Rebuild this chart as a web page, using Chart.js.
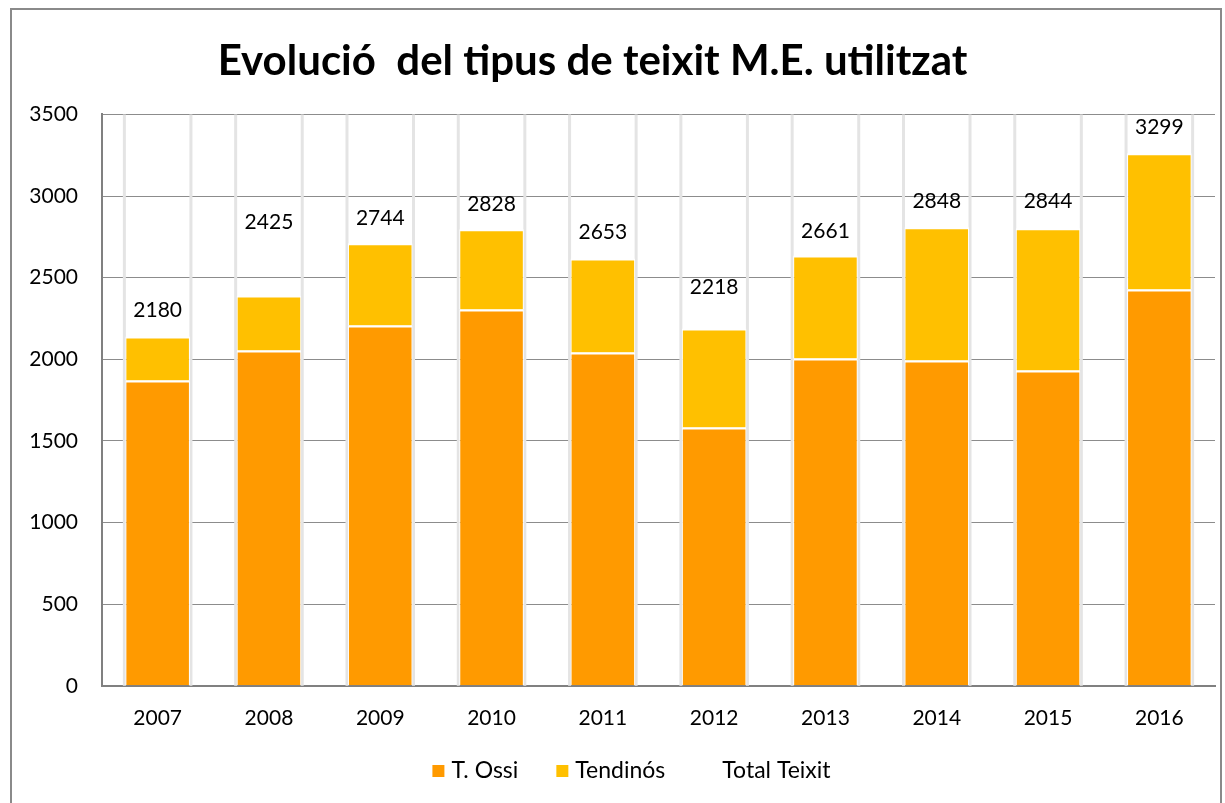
<!DOCTYPE html>
<html>
<head>
<meta charset="utf-8">
<title>Evolució del tipus de teixit M.E. utilitzat</title>
<script src="https://cdn.jsdelivr.net/npm/chart.js@4/dist/chart.umd.min.js"></script>
<style>
  html, body { margin: 0; padding: 0; background: #fff; }
  #wrap { position: relative; width: 1225px; height: 803px; }
  #frame { position: absolute; left: 10px; top: 8px; width: 1212px; height: 800px;
           border: 2px solid #8a8a8a; box-sizing: border-box; pointer-events: none; }
</style>
</head>
<body>
<div id="wrap">
  <canvas id="chart" width="1225" height="803"></canvas>
  <div id="frame"></div>
</div>
<script>
// data
var years = ['2007', '2008', '2009', '2010', '2011', '2012', '2013', '2014', '2015', '2016'];
var ossi = [1870, 2054, 2207, 2305, 2042, 1582, 2005, 1993, 1931, 2428];
var tendinos = [270, 337, 503, 491, 576, 607, 631, 815, 871, 834];
var totalTeixit = [2180, 2425, 2744, 2828, 2653, 2218, 2661, 2848, 2844, 3299];
var yTicks = [0, 500, 1000, 1500, 2000, 2500, 3000, 3500];

var FONT = 'Lato, "Open Sans", sans-serif';
var TITLE = 'Evolució  del tipus de teixit M.E. utilitzat';

// soft grey lines along the bar edges, like the original's shadow
var barEdges = {
  id: 'barEdges',
  beforeDatasetsDraw: function (chart) {
    var ctx = chart.ctx, area = chart.chartArea;
    var meta = chart.getDatasetMeta(0);
    ctx.save();
    ctx.strokeStyle = '#e4e4e4';
    ctx.lineWidth = 3;
    meta.data.forEach(function (bar) {
      var half = bar.width / 2 + 1;
      [bar.x - half, bar.x + half].forEach(function (x) {
        ctx.beginPath();
        ctx.moveTo(x, area.top);
        ctx.lineTo(x, area.bottom);
        ctx.stroke();
      });
    });
    ctx.restore();
  }
};

// total labels above the stacks
var totalLabels = {
  id: 'totalLabels',
  afterDatasetsDraw: function (chart, args, opts) {
    var ctx = chart.ctx;
    var meta = chart.getDatasetMeta(2);
    ctx.save();
    ctx.font = '21px ' + FONT;
    ctx.fillStyle = '#000';
    ctx.textAlign = 'center';
    ctx.textBaseline = 'middle';
    meta.data.forEach(function (pt, i) {
      var nudge = (opts.nudge && opts.nudge[i]) || 0;
      ctx.fillText(String(totalTeixit[i]), pt.x, pt.y - 20 + nudge);
    });
    ctx.restore();
  }
};

// the title sits a little left of centre in the original
var shiftedTitle = {
  id: 'shiftedTitle',
  afterDraw: function (chart, args, opts) {
    var t = chart.titleBlock, ctx = chart.ctx;
    ctx.save();
    ctx.font = 'bold 42px ' + FONT;
    ctx.fillStyle = '#000';
    ctx.textAlign = 'center';
    ctx.textBaseline = 'middle';
    ctx.fillText(TITLE, chart.width / 2 + opts.dx, (t.top + t.bottom) / 2);
    ctx.restore();
  }
};

// Excel-style legend: small square, short gap, wide spacing between items
var bottomLegend = {
  id: 'bottomLegend',
  afterDraw: function (chart, args, opts) {
    var ctx = chart.ctx;
    var box = 12, gap = 7, spacing = 38;
    ctx.save();
    ctx.font = opts.size + 'px ' + FONT;
    ctx.textBaseline = 'middle';
    ctx.textAlign = 'left';
    var items = chart.data.datasets.map(function (ds) {
      return { text: ds.label, color: ds.backgroundColor, w: ctx.measureText(ds.label).width };
    });
    var total = items.reduce(function (s, it) { return s + box + gap + it.w; }, 0) + spacing * (items.length - 1);
    var x = chart.width / 2 + opts.dx - total / 2;
    var y = opts.y;
    items.forEach(function (it) {
      ctx.fillStyle = it.color;
      ctx.fillRect(x, y - box / 2, box, box);
      x += box + gap;
      ctx.fillStyle = '#000';
      ctx.fillText(it.text, x, y);
      x += it.w + spacing;
    });
    ctx.restore();
  }
};

new Chart(document.getElementById('chart'), {
  type: 'bar',
  data: {
    labels: years,
    datasets: [
      {
        label: 'T. Ossi',
        data: ossi,
        backgroundColor: '#ff9a00',
        borderColor: '#ffffff',
        borderWidth: { top: 2, left: 1, right: 1, bottom: 0 },
        borderSkipped: false,
        stack: 's',
        barPercentage: 0.58,
        categoryPercentage: 1
      },
      {
        label: 'Tendinós',
        data: tendinos,
        backgroundColor: '#ffc000',
        borderColor: '#ffffff',
        borderWidth: { top: 2, left: 1, right: 1, bottom: 0 },
        borderSkipped: false,
        stack: 's',
        barPercentage: 0.58,
        categoryPercentage: 1
      },
      {
        label: 'Total Teixit',
        type: 'line',
        data: totalTeixit,
        showLine: false,
        pointRadius: 0,
        borderColor: 'rgba(0,0,0,0)',
        backgroundColor: 'rgba(0,0,0,0)'
      }
    ]
  },
  options: {
    responsive: false,
    animation: false,
    layout: { padding: { left: 12, right: 10, top: 8, bottom: 52 } },
    plugins: {
      title: {
        display: true,
        text: TITLE,
        color: 'rgba(0,0,0,0)',
        font: { family: FONT, size: 42, weight: 'bold' },
        padding: { top: 30, bottom: 26 }
      },
      legend: { display: false },
      tooltip: { enabled: false },
      totalLabels: { nudge: [0, -48, 0, 0, 0, -16, 0, 0, 0, 0] },
      shiftedTitle: { dx: -20 },
      bottomLegend: { dx: 19, y: 771, size: 23 }
    },
    scales: {
      x: {
        stacked: true,
        grid: { display: false, drawTicks: false },
        border: { display: true, color: '#808080', width: 2 },
        ticks: { color: '#000', font: { family: FONT, size: 21 }, padding: 20 }
      },
      y: {
        stacked: true,
        min: 0,
        max: 3500,
        afterBuildTicks: function (axis) {
          axis.ticks = yTicks.map(function (v) { return { value: v }; });
        },
        afterFit: function (axis) { axis.width = 90; },
        grid: { color: '#8c8c8c', lineWidth: 1, drawTicks: true, tickLength: 0 },
        border: { display: true, color: '#808080', width: 2 },
        ticks: {
          color: '#000',
          font: { family: FONT, size: 21 },
          padding: 24,
          callback: function (v) { return String(v); }
        }
      }
    }
  },
  plugins: [barEdges, totalLabels, shiftedTitle, bottomLegend]
});
</script>
</body>
</html>
